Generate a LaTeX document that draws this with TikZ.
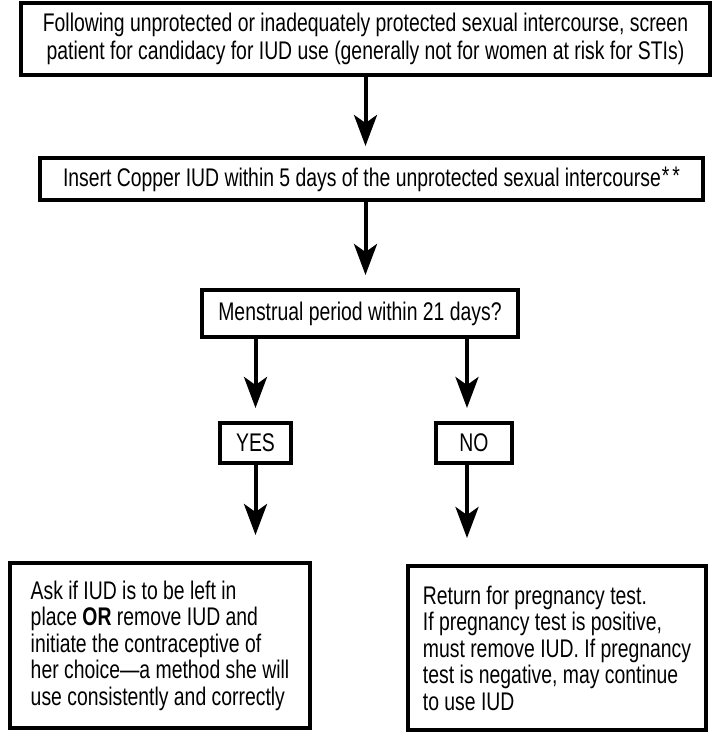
\documentclass[tikz,border=0pt]{standalone}
\usepackage{fontspec}
\setmainfont[FakeStretch=0.76]{Liberation Sans}
\usetikzlibrary{arrows.meta}
\begin{document}
\begin{tikzpicture}[x=1pt,y=-1pt,
  box/.style={draw, line width=4pt, inner sep=0pt, font=\fontsize{25.5}{27.5}\selectfont},
  tbox/.style={box, align=left, font=\fontsize{25.5}{26.5}\selectfont},
  arr/.style={line width=4pt, -{Stealth[length=31pt,width=23pt,inset=8pt]}}]
\useasboundingbox (0,0) rectangle (713,741);
\node[box, minimum width=689pt, minimum height=72pt, align=center] (top) at (365.5,39)
  {Following unprotected or inadequately protected sexual intercourse, screen\\
   patient for candidacy for IUD use (generally not for women at risk for STIs)};
\node[box, minimum width=663pt, minimum height=42pt] (b2) at (371.5,179)
  {Insert Copper IUD within 5 days of the unprotected sexual intercourse\kern1pt\raisebox{2pt}{*\kern3pt*}};
\node[box, minimum width=316pt, minimum height=47pt] (b3) at (360,313.5)
  {Menstrual period within 21 days?};
\node[box, minimum width=71pt, minimum height=40pt] (yes) at (255.5,443) {YES};
\node[box, minimum width=76pt, minimum height=40pt] (no) at (474,443) {NO};
\node[tbox, minimum width=300pt, minimum height=165pt] (lb) at (160,645.5)
  {Ask if IUD is to be left in\\
   place \textbf{OR} remove IUD and\\
   initiate the contraceptive of\\
   her choice—a method she will\\
   use consistently and correctly};
\node[tbox, minimum width=298pt, minimum height=164pt] (rb) at (557,648)
  {Return for pregnancy test.\\
   If pregnancy test is positive,\\
   must remove IUD. If pregnancy\\
   test is negative, may continue\\
   to use IUD};
\coordinate (nx) at (467,0);
\draw[arr, shorten >=10pt] (top.south) -- (top.south |- b2.north);
\draw[arr, shorten >=13pt] (b2.south -| top.south) -- (b3.north -| top.south);
\draw[arr, shorten >=13pt] (b3.south -| yes.north) -- (yes.north);
\draw[arr, shorten >=13pt] (b3.south -| nx) -- (no.north -| nx);
\draw[arr, shorten >=26pt] (yes.south) -- (yes.south |- lb.north);
\draw[arr, shorten >=26pt] (no.south -| nx) -- (rb.north -| nx);
\end{tikzpicture}
\end{document}
